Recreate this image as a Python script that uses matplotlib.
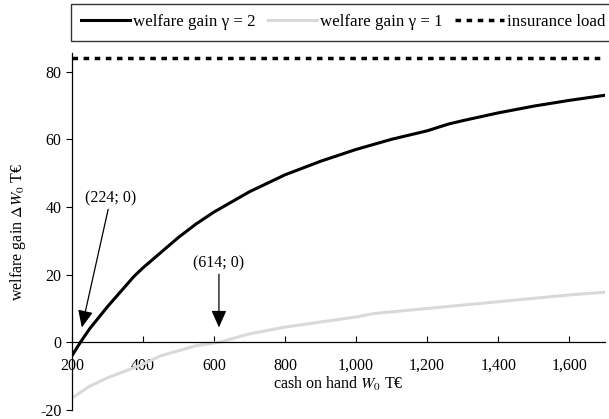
import numpy as np
import matplotlib.pyplot as plt

plt.rcParams["font.family"] = ["Liberation Serif", "DejaVu Serif"]
plt.rcParams["mathtext.fontset"] = "stix"

# welfare gain for risk aversion gamma = 2 (T€)
cash_g2 = [200, 224, 250, 300, 350, 375, 400, 450, 500, 550, 600, 700, 800,
           900, 1000, 1100, 1200, 1260, 1300, 1400, 1500, 1600, 1700]
gain_g2 = [-4, 0, 4, 10.5, 16.5, 19.5, 22, 26.5, 31, 35, 38.5, 44.5, 49.5,
           53.5, 57, 60, 62.5, 64.5, 65.5, 67.8, 69.8, 71.5, 73]

# welfare gain for gamma = 1
cash_g1 = [200, 250, 300, 350, 400, 450, 500, 550, 614, 700, 800, 900,
           1000, 1050, 1200, 1300, 1400, 1500, 1600, 1700]
gain_g1 = [-16.5, -13, -10.5, -8.5, -6.5, -4, -2.5, -1, 0, 2.5, 4.5, 6,
           7.5, 8.5, 10, 11, 12, 13, 14, 14.8]

insurance_load = 84
x_ticks = [200, 400, 600, 800, 1000, 1200, 1400, 1600]
y_ticks = [-20, 0, 20, 40, 60, 80]
break_even = [224, 614]

FS = 11.5

fig = plt.figure(figsize=(6.09, 4.19), dpi=100)
ax = fig.add_axes([0.118, 0.0215, 0.875, 0.852])

l2, = ax.plot(cash_g2, gain_g2, color="black", lw=2.2, label="welfare gain γ = 2")
l1, = ax.plot(cash_g1, gain_g1, color="#d9d9d9", lw=2.2, label="welfare gain γ = 1")
ll = ax.axhline(insurance_load, color="black", lw=2.5, ls=(0, (1.6, 1.6)),
                label="insurance load")

ax.set_xlim(200, 1700)
ax.set_ylim(-20, 85.5)

for s in ["top", "right"]:
    ax.spines[s].set_visible(False)
ax.spines["bottom"].set_position(("data", 0))
ax.spines["left"].set_bounds(-20, 85.5)
for s in ["bottom", "left"]:
    ax.spines[s].set_linewidth(0.9)

ax.set_xticks(x_ticks)
ax.set_xticklabels([f"{v:,}" for v in x_ticks])
ax.set_yticks(y_ticks)
ax.set_yticklabels([str(v) for v in y_ticks])
ax.tick_params(axis="x", direction="in", length=4, pad=11, labelsize=FS)
ax.tick_params(axis="y", direction="out", length=4, labelsize=FS)

ax.set_xlabel(r"cash on hand $W_0$ T€", fontsize=FS, labelpad=1)
ax.set_ylabel(r"welfare gain $\Delta W_0$ T€", fontsize=FS, labelpad=9)

arrow = dict(arrowstyle="-|>,head_length=0.9,head_width=0.4", color="black",
             lw=0.9, shrinkA=0, shrinkB=0)
ax.annotate(f"({break_even[0]}; 0)", xy=(228, 4.4), xytext=(309, 42.5),
            ha="center", va="center", fontsize=FS, arrowprops=arrow)
ax.annotate(f"({break_even[1]}; 0)", xy=(break_even[1], 4.4),
            xytext=(break_even[1], 23.3), ha="center", va="center",
            fontsize=FS, arrowprops=arrow)

fig.legend(handles=[l2, l1, ll], loc="upper left", bbox_to_anchor=(0.116, 0.99),
           ncol=3, fontsize=12.2, frameon=True, fancybox=False, edgecolor="black",
           handlelength=2.9, handletextpad=0.2, columnspacing=0.7,
           borderpad=0.6, borderaxespad=0)

fig.savefig("out.png", dpi=100)
